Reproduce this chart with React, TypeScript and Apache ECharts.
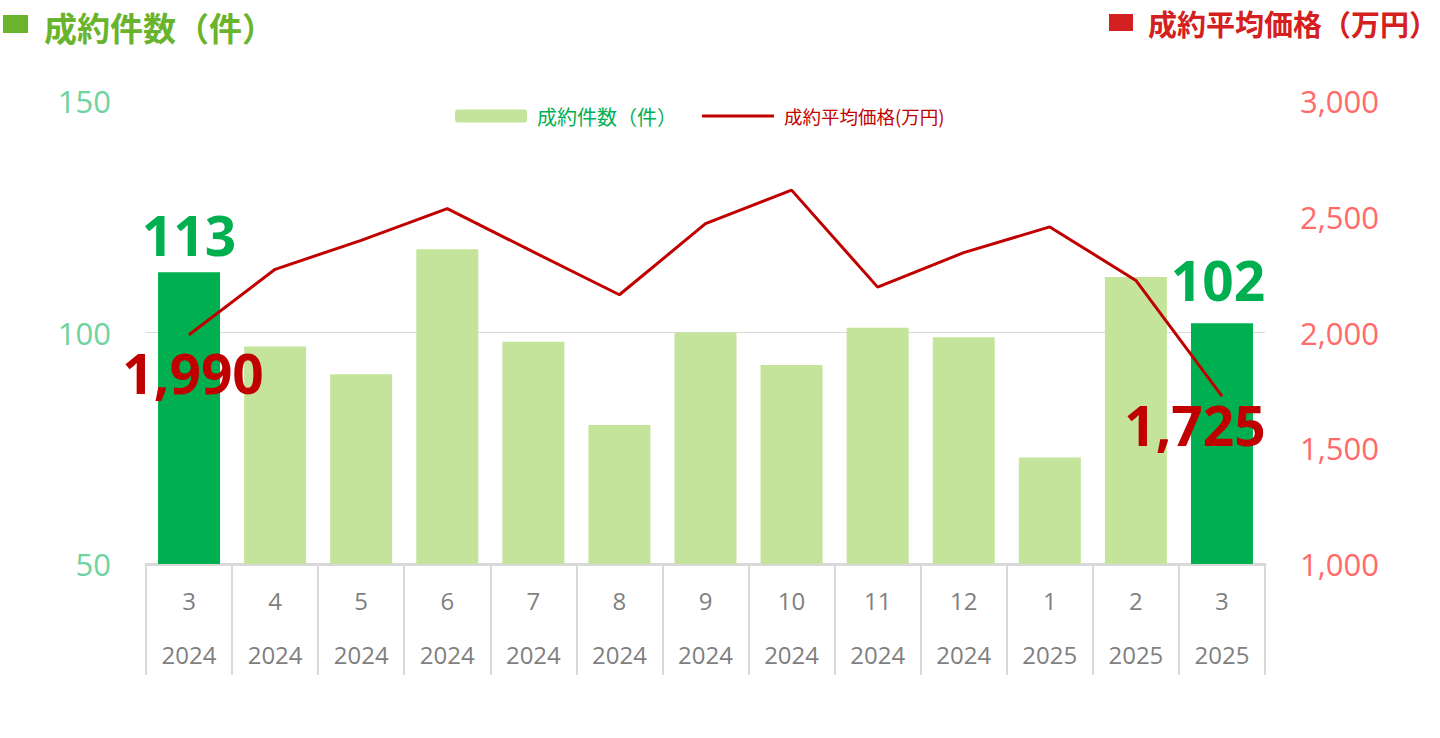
import React, { useEffect, useRef } from "react";
import * as echarts from "echarts";

const months = ["3", "4", "5", "6", "7", "8", "9", "10", "11", "12", "1", "2", "3"];
const years = ["2024", "2024", "2024", "2024", "2024", "2024", "2024", "2024", "2024", "2024", "2025", "2025", "2025"];
const counts = [113, 97, 91, 118, 98, 80, 100, 93, 101, 99, 73, 112, 102];
const prices = [1990, 2273, 2398, 2535, 2348, 2163, 2470, 2615, 2196, 2345, 2456, 2225, 1725];
const leftTicks = { min: 50, max: 150, interval: 50 };
const rightTicks = { min: 1000, max: 3000, interval: 500 };

const countName = "成約件数（件）";
const priceName = "成約平均価格(万円)";
const leftTitle = "成約件数（件）";
const rightTitle = "成約平均価格（万円）";

const NUM_FONT = "'Open Sans', 'Noto Sans', sans-serif";
const CJK_FONT = "'Noto Sans CJK JP', 'Noto Sans', sans-serif";

export default function App() {
  const ref = useRef<HTMLDivElement>(null);

  useEffect(() => {
    if (!ref.current) return;
    const chart = echarts.init(ref.current, undefined, { renderer: "svg" });
    const categories = months.map((m, i) => `${years[i]}/${m}`);
    const last = counts.length - 1;

    const barData = counts.map((v, i) => {
      if (i === 0 || i === last) {
        return {
          value: v,
          itemStyle: { color: "#00b050" },
          label: {
            show: true,
            position: "top",
            distance: i === last ? 16 : 10,
            offset: i === last ? [-4, 0] : [0, 0],
            color: "#00b050",
            fontSize: 55,
            fontWeight: "bold",
            fontFamily: NUM_FONT,
          },
        };
      }
      return v;
    });

    const lineData = prices.map((v, i) => {
      if (i === 0 || i === last) {
        return {
          value: v,
          symbol: "circle",
          symbolSize: 1,
          label: {
            show: true,
            position: "bottom",
            distance: i === 0 ? 10 : 0,
            offset: i === 0 ? [4, 0] : [-27, 0],
            color: "#c00000",
            fontSize: 55,
            fontWeight: "bold",
            fontFamily: NUM_FONT,
            formatter: (p: any) => Number(p.value).toLocaleString("en-US"),
          },
        };
      }
      return v;
    });

    chart.setOption({
      animation: false,
      backgroundColor: "#ffffff",
      grid: { left: 146, right: 175, top: 101, bottom: 174, containLabel: false },
      legend: {
        left: 450,
        top: 101,
        itemWidth: 72,
        itemHeight: 13,
        itemGap: 25,
        symbolKeepAspect: true,
        textStyle: { fontSize: 18, fontFamily: CJK_FONT, padding: [0, 0, 0, 5] },
        data: [
          { name: countName, textStyle: { color: "#00b050", fontSize: 20 } },
          { name: priceName, icon: "path://M0 0H72V3H0Z", textStyle: { color: "#c00000", fontSize: 18.5 } },
        ],
      },
      xAxis: {
        type: "category",
        data: categories,
        boundaryGap: true,
        axisLine: { show: true, lineStyle: { color: "#d9d9d9", width: 3 } },
        axisTick: {
          show: true,
          interval: 0,
          alignWithLabel: false,
          length: 111,
          lineStyle: { color: "#d9d9d9", width: 2 },
        },
        axisLabel: {
          interval: 0,
          margin: 9,
          color: "#7f7f7f",
          fontFamily: NUM_FONT,
          fontSize: 24,
          formatter: (value: string) => {
            const [y, m] = value.split("/");
            return `{m|${m}}\n{y|${y}}`;
          },
          rich: {
            m: { fontSize: 24, lineHeight: 54, color: "#7f7f7f", fontFamily: NUM_FONT },
            y: { fontSize: 24, lineHeight: 54, color: "#7f7f7f", fontFamily: NUM_FONT },
          },
        },
        splitLine: { show: false },
      },
      yAxis: [
        {
          type: "value",
          position: "left",
          min: leftTicks.min,
          max: leftTicks.max,
          interval: leftTicks.interval,
          axisLine: { show: false },
          axisTick: { show: false },
          axisLabel: { color: "#6fd3a0", fontSize: 31, fontFamily: NUM_FONT, margin: 35 },
          splitLine: {
            show: true,
            lineStyle: { color: ["transparent", "#d9d9d9", "transparent"], width: 1 },
          },
        },
        {
          type: "value",
          position: "right",
          min: rightTicks.min,
          max: rightTicks.max,
          interval: rightTicks.interval,
          axisLine: { show: false },
          axisTick: { show: false },
          axisLabel: {
            color: "#ff6b6b",
            fontSize: 31,
            fontFamily: NUM_FONT,
            margin: 35,
            formatter: (v: number) => v.toLocaleString("en-US"),
          },
          splitLine: { show: false },
        },
      ],
      series: [
        {
          name: countName,
          type: "bar",
          yAxisIndex: 0,
          barWidth: 62,
          itemStyle: { color: "#c3e49a" },
          data: barData,
          z: 2,
        },
        {
          name: priceName,
          type: "line",
          yAxisIndex: 1,
          symbol: "none",
          lineStyle: { color: "#c00000", width: 3 },
          itemStyle: { color: "#c00000" },
          data: lineData,
          z: 3,
        },
      ],
      graphic: [
        { type: "rect", left: 3, top: 15, shape: { width: 25, height: 18 }, style: { fill: "#6ab42d" } },
        {
          type: "text",
          x: 44,
          y: 27,
          style: {
            text: leftTitle,
            fill: "#6ab42d",
            font: `bold 33px ${CJK_FONT}`,
            textVerticalAlign: "middle",
            verticalAlign: "middle",
          },
        },
        { type: "rect", left: 1109, top: 14, shape: { width: 24, height: 17 }, style: { fill: "#d42020" } },
        {
          type: "text",
          x: 1148,
          y: 23,
          style: {
            text: rightTitle,
            fill: "#d42020",
            font: `bold 29px ${CJK_FONT}`,
            textVerticalAlign: "middle",
            verticalAlign: "middle",
          },
        },
      ],
    });

    return () => chart.dispose();
  }, []);

  return (
    <div
      ref={ref}
      style={{ position: "absolute", left: 0, top: 0, width: 1440, height: 738 }}
    />
  );
}
